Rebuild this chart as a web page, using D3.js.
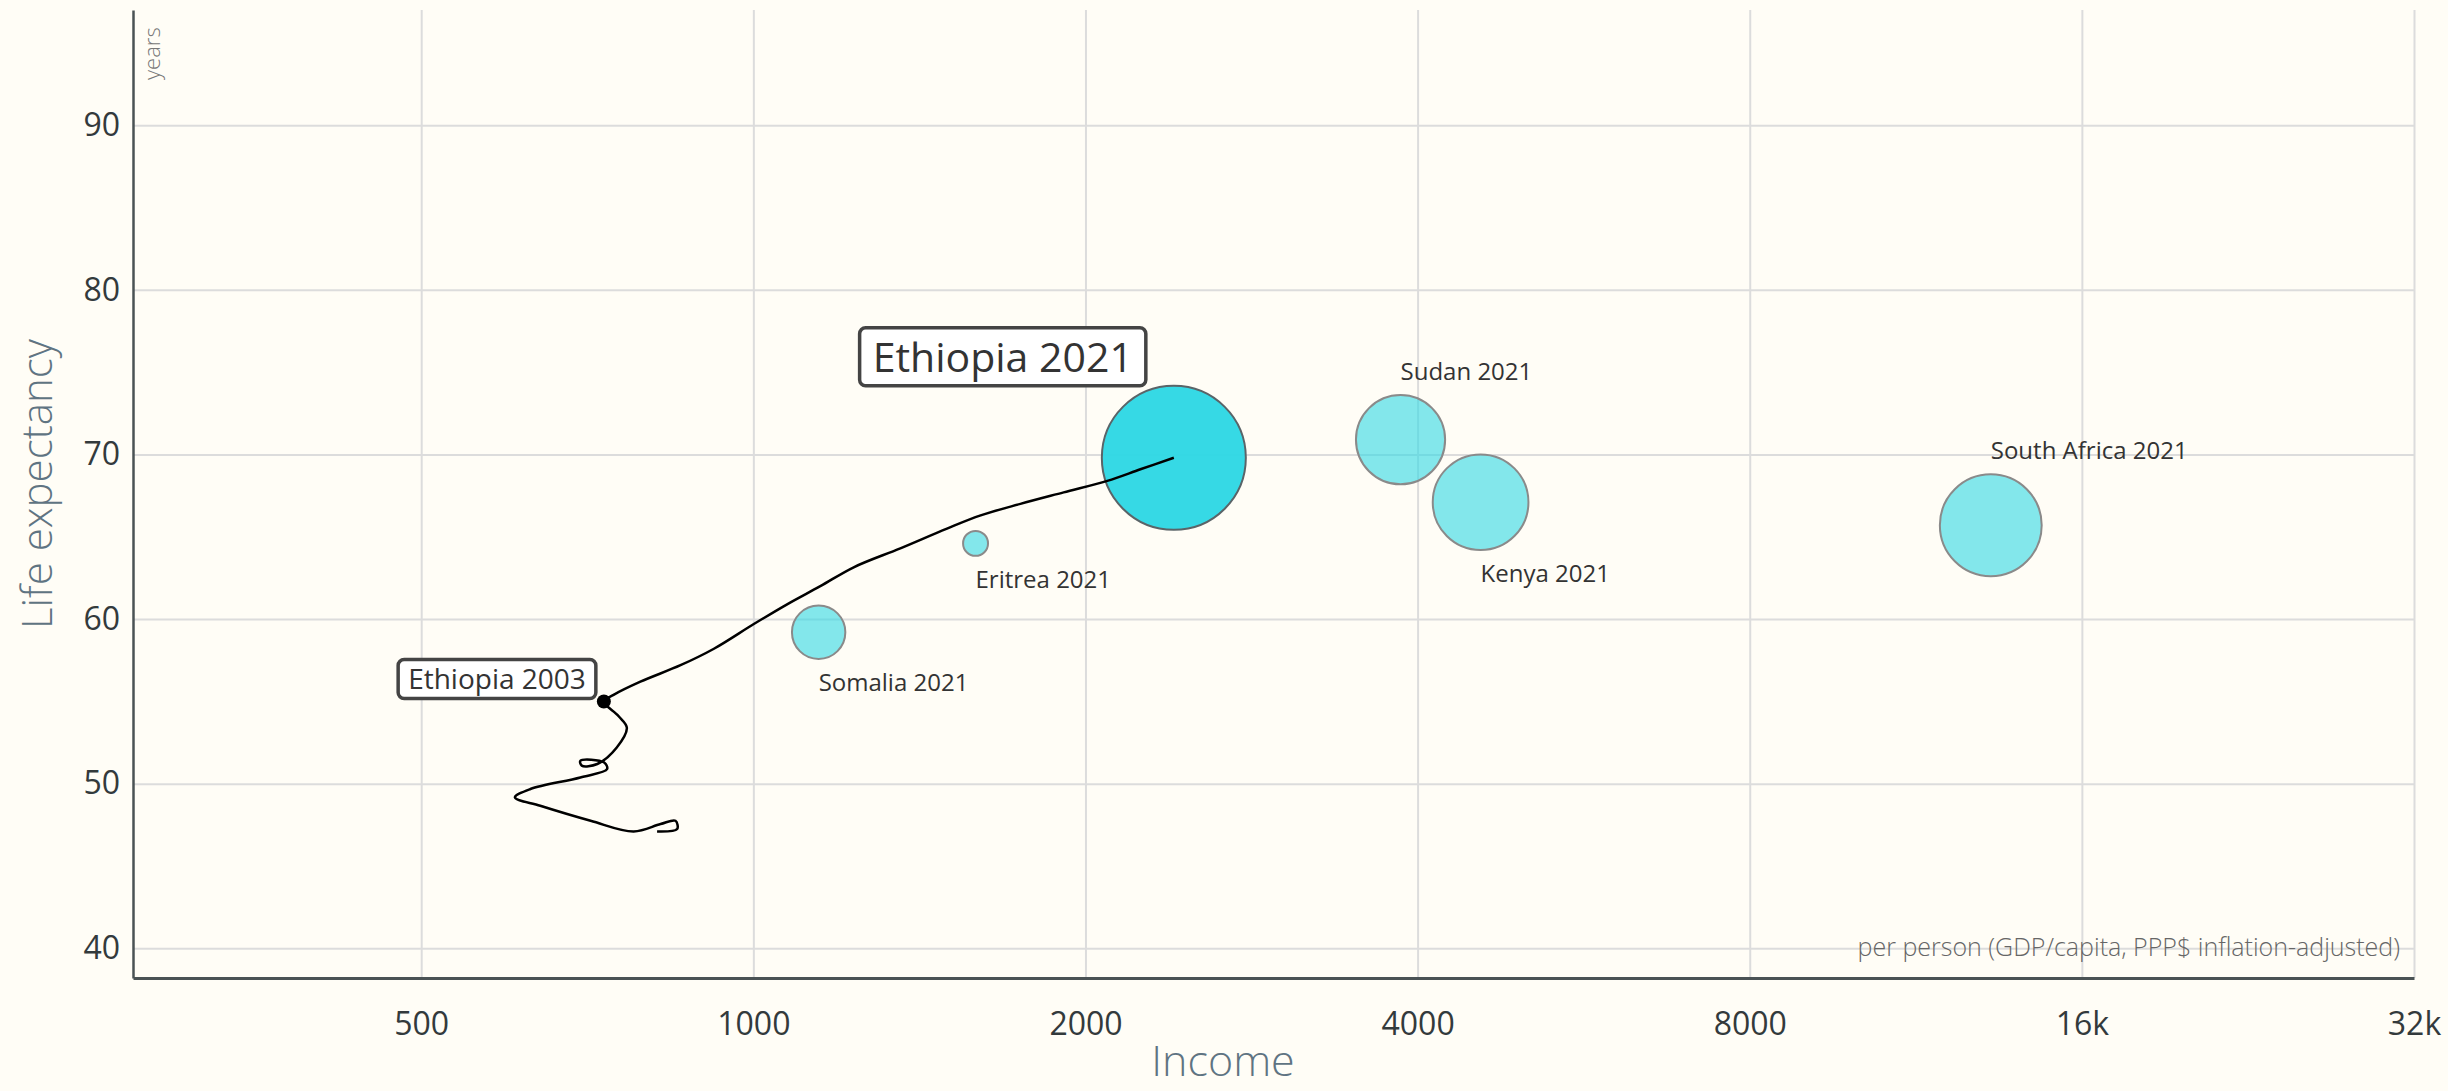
<!DOCTYPE html>
<html>
<head>
<meta charset="utf-8">
<script src="https://cdn.jsdelivr.net/npm/d3@7"></script>
<style>
    html, body { margin: 0; padding: 0; background: #fffdf6; }
    svg { display: block; }
    text { font-family: "Open Sans", sans-serif; }
</style>
</head>
<body>
<svg id="chart"></svg>
<script>
// axis ticks
const xTicks = [500, 1000, 2000, 4000, 8000, 16000, 32000];
const xTickLabels = ["500", "1000", "2000", "4000", "8000", "16k", "32k"];
const yTicks = [40, 50, 60, 70, 80, 90];

// bubbles, year 2021
const countries = ["Ethiopia", "Sudan", "Kenya", "South Africa", "Eritrea", "Somalia"];
const income2021 = [2405, 3860, 4562, 13230, 1590, 1146];
const lifeExp2021 = [69.8, 70.9, 67.1, 65.7, 64.6, 59.2];
const population2021 = [120e6, 46e6, 53e6, 60e6, 3.6e6, 16.5e6];

// Ethiopia trail, oldest point first
const trailIncome = [818, 853, 850, 824, 779, 712, 641, 608, 628, 697, 737, 732, 697, 699, 722, 752, 768, 755,
    732, 747, 790, 859, 921, 1001, 1073, 1150, 1233, 1359, 1498, 1607, 1746, 1911, 2093, 2243, 2405];
const trailLifeExp = [47.1, 47.25, 47.75, 47.55, 47.1, 47.75, 48.66, 49.17, 49.68, 50.38, 50.89, 51.3, 51.4, 51.1, 51.2, 52.2, 53.4, 54.1,
    55.0, 55.4, 56.2, 57.2, 58.2, 59.7, 60.9, 62.0, 63.15, 64.3, 65.5, 66.3, 67.0, 67.7, 68.4, 69.1, 69.8];
const trailMarkIndex = 18;   // Ethiopia 2003

const WIDTH = 2448;
const HEIGHT = 1091;
const LEFT = 133, RIGHT = 2414, TOP = 10, BOTTOM = 978;

const svg = d3.select('#chart').attr('width', WIDTH).attr('height', HEIGHT);

svg.append('rect')
    .attr('width', WIDTH).attr('height', HEIGHT)
    .attr('fill', '#fffdf6');

const x = d3.scaleLog().base(2).domain([274, 32000]).range([LEFT, RIGHT]);
const y = d3.scaleLinear().domain([38.2, 97]).range([BOTTOM, TOP]);
const r = d3.scaleSqrt().domain([0, 120e6]).range([0, 72]);

// grid
svg.append('g')
    .attr('transform', `translate(0,${BOTTOM})`)
    .call(d3.axisBottom(x).tickValues(xTicks).tickSize(-(BOTTOM - TOP)).tickFormat(''))
    .call(g => g.select('.domain').remove())
    .call(g => g.selectAll('line').attr('stroke', '#dcdcdc').attr('stroke-width', 2));

svg.append('g')
    .attr('transform', `translate(${LEFT},0)`)
    .call(d3.axisLeft(y).tickValues(yTicks).tickSize(-(RIGHT - LEFT)).tickFormat(''))
    .call(g => g.select('.domain').remove())
    .call(g => g.selectAll('line').attr('stroke', '#dcdcdc').attr('stroke-width', 2));

// axes
const xAxis = svg.append('g')
    .attr('transform', `translate(0,${BOTTOM})`)
    .call(d3.axisBottom(x).tickValues(xTicks).tickSize(0).tickPadding(34)
        .tickFormat((d, i) => xTickLabels[i]));
xAxis.select('.domain').attr('stroke', '#4a5254').attr('stroke-width', 3);
xAxis.selectAll('text')
    .attr('font-size', 32)
    .attr('font-family', '"Open Sans", sans-serif')
    .attr('fill', '#333a3c')
    .attr('dy', '0.72em');

const yAxis = svg.append('g')
    .attr('transform', `translate(${LEFT},0)`)
    .call(d3.axisLeft(y).tickValues(yTicks).tickSize(0).tickPadding(13));
yAxis.select('.domain').attr('stroke', '#4a5254').attr('stroke-width', 2.5);
yAxis.selectAll('text')
    .attr('font-size', 32)
    .attr('font-family', '"Open Sans", sans-serif')
    .attr('fill', '#333a3c');

// titles
svg.append('text')
    .text('Life expectancy')
    .attr('transform', 'translate(52,484) rotate(-90)')
    .attr('text-anchor', 'middle')
    .attr('font-size', 42)
    .attr('font-weight', 300)
    .attr('fill', '#5f7482');

svg.append('text')
    .text('years')
    .attr('transform', 'translate(160,80) rotate(-90)')
    .attr('text-anchor', 'start')
    .attr('font-size', 22)
    .attr('font-weight', 300)
    .attr('fill', '#777');

svg.append('text')
    .text('Income')
    .attr('x', 1223)
    .attr('y', 1076)
    .attr('text-anchor', 'middle')
    .attr('font-size', 43)
    .attr('font-weight', 300)
    .attr('fill', '#5f7482');

svg.append('text')
    .text('per person (GDP/capita, PPP$ inflation-adjusted)')
    .attr('x', 2400)
    .attr('y', 956)
    .attr('text-anchor', 'end')
    .attr('font-size', 25)
    .attr('font-weight', 300)
    .attr('fill', '#666');

// bubbles
const bubbles = countries.map((c, i) => ({
    name: c,
    income: income2021[i],
    life: lifeExp2021[i],
    pop: population2021[i],
    selected: c === 'Ethiopia',
}));

// label sides for the non-selected bubbles
const LABEL_SIDE = {Sudan: 'above', Kenya: 'below', 'South Africa': 'above', Eritrea: 'below', Somalia: 'below'};

const others = bubbles.filter(d => !d.selected);
const eth = bubbles.find(d => d.selected);

svg.append('g').selectAll('circle')
    .data(others)
    .enter().append('circle')
    .attr('cx', d => x(d.income))
    .attr('cy', d => y(d.life))
    .attr('r', d => r(d.pop))
    .attr('fill', '#30d8e4')
    .attr('fill-opacity', 0.6)
    .attr('stroke', '#8a8a8a')
    .attr('stroke-width', 2);

svg.append('circle')
    .attr('cx', x(eth.income))
    .attr('cy', y(eth.life))
    .attr('r', r(eth.pop))
    .attr('fill', '#30d8e4')
    .attr('fill-opacity', 0.97)
    .attr('stroke', '#5a6468')
    .attr('stroke-width', 2);

// trail
const trail = trailIncome.map((v, i) => [x(v), y(trailLifeExp[i])]);
svg.append('path')
    .attr('d', d3.line().curve(d3.curveCatmullRom.alpha(0.5))(trail))
    .attr('fill', 'none')
    .attr('stroke', '#000')
    .attr('stroke-width', 2.5);

svg.append('circle')
    .attr('cx', trail[trailMarkIndex][0])
    .attr('cy', trail[trailMarkIndex][1])
    .attr('r', 7)
    .attr('fill', '#000');

// labels of non-selected bubbles
svg.append('g').selectAll('text')
    .data(others)
    .enter().append('text')
    .text(d => d.name + ' 2021')
    .attr('x', d => x(d.income))
    .attr('y', d => LABEL_SIDE[d.name] === 'above'
        ? y(d.life) - r(d.pop) - 15
        : y(d.life) + r(d.pop) + 32)
    .attr('font-size', 24)
    .attr('fill', '#333');

// boxed labels
function boxLabel(label, fontSize, rightX, bottomY, padX, boxH) {
    const g = svg.append('g');
    const rect = g.append('rect');
    const t = g.append('text')
        .text(label)
        .attr('font-size', fontSize)
        .attr('fill', '#333');
    const w = t.node().getComputedTextLength() + padX * 2;
    rect.attr('x', rightX - w)
        .attr('y', bottomY - boxH)
        .attr('width', w)
        .attr('height', boxH)
        .attr('rx', 6)
        .attr('fill', '#fff')
        .attr('stroke', '#444')
        .attr('stroke-width', 3.5);
    t.attr('x', rightX - w + padX)
        .attr('y', bottomY - boxH / 2 + fontSize * 0.36);
}

boxLabel('Ethiopia 2021', 41, x(eth.income) - 28, y(eth.life) - r(eth.pop), 13, 58);
boxLabel('Ethiopia 2003', 28, trail[trailMarkIndex][0] - 8, trail[trailMarkIndex][1] - 3, 10, 39);
</script>
</body>
</html>
